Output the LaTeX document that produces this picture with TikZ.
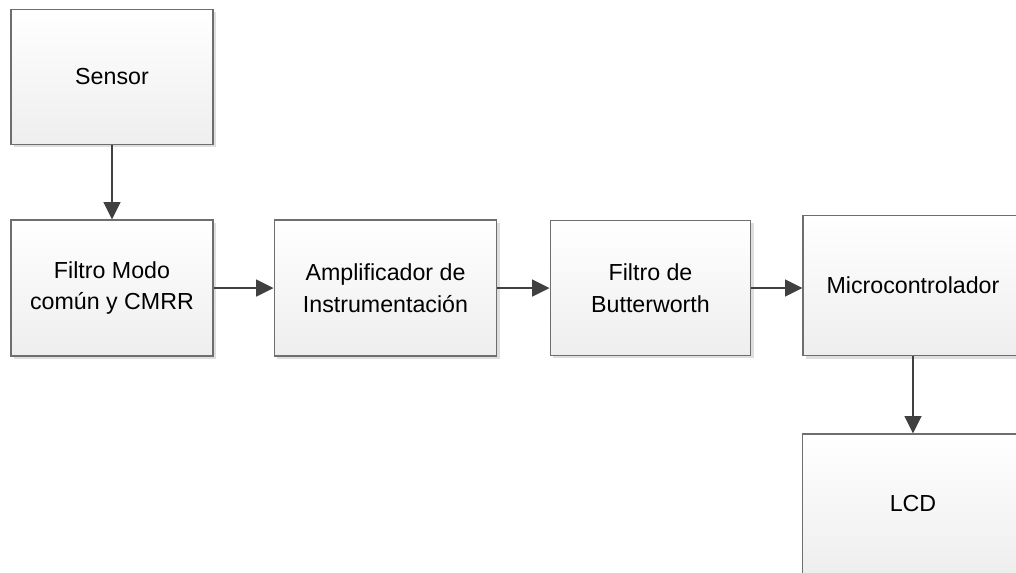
\documentclass[tikz,border=0pt]{standalone}
\usepackage{fontspec}
\setmainfont{Liberation Sans}
\usetikzlibrary{arrows.meta,shadows}
\definecolor{boxline}{HTML}{6E6E6E}
\definecolor{arrline}{HTML}{404040}
\definecolor{boxbottom}{HTML}{EEEEEE}
\tikzset{
  blockbox/.style={draw=boxline, line width=0.9pt, top color=white, bottom color=boxbottom,
    drop shadow={shadow xshift=2pt, shadow yshift=-2pt, fill=black, opacity=0.13},
    align=center, inner sep=0pt,
    font=\fontsize{17.4}{23.6}\selectfont},
  flowarrow/.style={draw=arrline, line width=1.6pt, -{Triangle[length=13pt,width=12.5pt]}}
}
\begin{document}
\begin{tikzpicture}[x=0.75pt, y=-0.75pt]
\clip (0,0) rectangle (1016,572);
\fill[white] (0,0) rectangle (1016,572);
\node[blockbox, minimum width=151.5pt, minimum height=101.5pt] (sensor) at (112,77) {Sensor};
\node[blockbox, minimum width=151.5pt, minimum height=102pt] (filtro) at (112,288) {Filtro Modo\\común y CMRR};
\node[blockbox, minimum width=167pt, minimum height=102pt] (amp) at (385.5,288) {Amplificador de\\Instrumentación};
\node[blockbox, minimum width=150.5pt, minimum height=101.5pt] (butter) at (650.5,288) {Filtro de\\Butterworth};
\node[blockbox, minimum width=165pt, minimum height=105.5pt] (micro) at (913,285.5) {Microcontrolador};
\node[blockbox, minimum width=166pt, minimum height=105pt] (lcd) at (913,504) {LCD};
\draw[flowarrow] (sensor.south) -- (filtro.north);
\draw[flowarrow] (filtro.east) -- (amp.west);
\draw[flowarrow] (amp.east) -- (butter.west);
\draw[flowarrow] (butter.east) -- (butter.east -| micro.west);
\draw[flowarrow] (micro.south) -- (lcd.north);
\end{tikzpicture}
\end{document}
